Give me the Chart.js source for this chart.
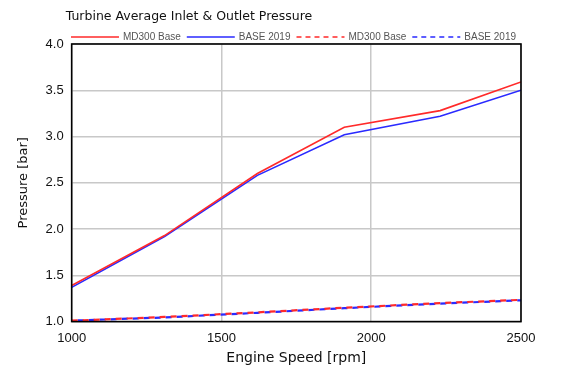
<!DOCTYPE html>
<html>
<head>
<meta charset="utf-8">
<script src="https://cdn.jsdelivr.net/npm/chart.js@4.4.0/dist/chart.umd.min.js"></script>
<style>
  html, body { margin: 0; padding: 0; background: #fff; }
  #wrap { width: 581px; height: 373px; }
</style>
</head>
<body>
<div id="wrap"><canvas id="lineChart" width="581" height="373"></canvas></div>
<script>
// engine speeds (rpm) where the curves are sampled
var speeds = [1000, 1310, 1620, 1910, 2230, 2500];
// inlet pressure [bar]
var inletMD300 = [1.39, 1.93, 2.60, 3.10, 3.28, 3.59];
var inletBase2019 = [1.37, 1.92, 2.58, 3.02, 3.22, 3.50];
// outlet pressure [bar]
var outletMD300 = [1.01, 1.05, 1.10, 1.15, 1.20, 1.235];
var outletBase2019 = [1.01, 1.045, 1.095, 1.145, 1.195, 1.23];

var xTicks = [1000, 1500, 2000, 2500];
var yTicks = [1.0, 1.5, 2.0, 2.5, 3.0, 3.5, 4.0];

var chartTitle = 'Turbine Average Inlet & Outlet Pressure';
var seriesNames = ['MD300 Base', 'BASE 2019', 'MD300 Base', 'BASE 2019'];

function pts(ys) {
  return speeds.map(function (s, i) { return { x: s, y: ys[i] }; });
}

// title, one-row legend and black frame round the plot
var framePlugin = {
  id: 'frame',
  afterDraw: function (chart) {
    var c = chart.ctx, a = chart.chartArea;
    c.save();
    c.strokeStyle = '#000';
    c.lineWidth = 1.6;
    c.strokeRect(a.left, a.top, a.right - a.left, a.bottom - a.top);

    c.fillStyle = '#111';
    c.font = '12.5px "DejaVu Sans"';
    c.textBaseline = 'middle';
    c.fillText(chartTitle, a.left - 6, 17);

    // legend, right aligned just above the plot
    c.font = '10px "Liberation Sans"';
    var lineLen = 48, gapText = 4, gapItem = 6;
    var ds = chart.data.datasets;
    var total = 0;
    ds.forEach(function (d, i) {
      total += lineLen + gapText + c.measureText(d.label).width + (i < ds.length - 1 ? gapItem : 0);
    });
    var x = a.right - 5 - total, y = a.top - 7;
    ds.forEach(function (d) {
      c.beginPath();
      c.strokeStyle = d.borderColor;
      c.lineWidth = 1.6;
      c.setLineDash(d.borderDash ? [5, 4] : []);
      c.moveTo(x, y);
      c.lineTo(x + lineLen, y);
      c.stroke();
      c.setLineDash([]);
      x += lineLen + gapText;
      c.fillStyle = '#555';
      c.fillText(d.label, x, y);
      x += c.measureText(d.label).width + gapItem;
    });
    c.restore();
  }
};

var ctx = document.getElementById('lineChart').getContext('2d');
var myChart = new Chart(ctx, {
  type: 'line',
  data: {
    datasets: [{
      label: seriesNames[0],
      data: pts(inletMD300),
      borderColor: '#ff2a2a',
      borderWidth: 1.6
    }, {
      label: seriesNames[1],
      data: pts(inletBase2019),
      borderColor: '#2a2aff',
      borderWidth: 1.6
    }, {
      label: seriesNames[2],
      data: pts(outletMD300),
      borderColor: '#ff2a2a',
      borderWidth: 2.2,
      borderDash: [6, 5]
    }, {
      label: seriesNames[3],
      data: pts(outletBase2019),
      borderColor: '#2a2aff',
      borderWidth: 2.2,
      borderDash: [6, 5],
      borderDashOffset: 5
    }]
  },
  options: {
    responsive: false,
    animation: false,
    parsing: false,
    elements: {
      point: { radius: 0 },
      line: { tension: 0, fill: false }
    },
    layout: { padding: { top: 44, left: 12, right: 60, bottom: 0 } },
    plugins: {
      title: { display: false },
      tooltip: { enabled: false },
      legend: { display: false }
    },
    scales: {
      x: {
        type: 'linear',
        min: 1000,
        max: 2500,
        afterBuildTicks: function (axis) {
          axis.ticks = xTicks.map(function (v) { return { value: v }; });
        },
        grid: { color: '#c8c8c8', lineWidth: 1.5, drawTicks: false },
        border: { display: false },
        ticks: {
          padding: 9,
          color: '#111',
          maxRotation: 0,
          font: { family: 'Liberation Sans', size: 13 },
          callback: function (v) { return String(v); }
        },
        title: {
          display: true,
          text: 'Engine Speed [rpm]',
          color: '#111',
          padding: { top: -5, bottom: 6 },
          font: { family: 'DejaVu Sans', size: 14 }
        }
      },
      y: {
        type: 'linear',
        min: 1,
        max: 4,
        afterBuildTicks: function (axis) {
          axis.ticks = yTicks.map(function (v) { return { value: v }; });
        },
        grid: { color: '#c8c8c8', lineWidth: 1.5, drawTicks: false },
        border: { display: false },
        ticks: {
          padding: 8,
          color: '#111',
          font: { family: 'Liberation Sans', size: 13 },
          callback: function (v) { return v.toFixed(1); }
        },
        title: {
          display: true,
          text: 'Pressure [bar]',
          color: '#111',
          padding: { bottom: 6 },
          font: { family: 'DejaVu Sans', size: 13 }
        }
      }
    }
  },
  plugins: [framePlugin]
});
</script>
</body>
</html>
